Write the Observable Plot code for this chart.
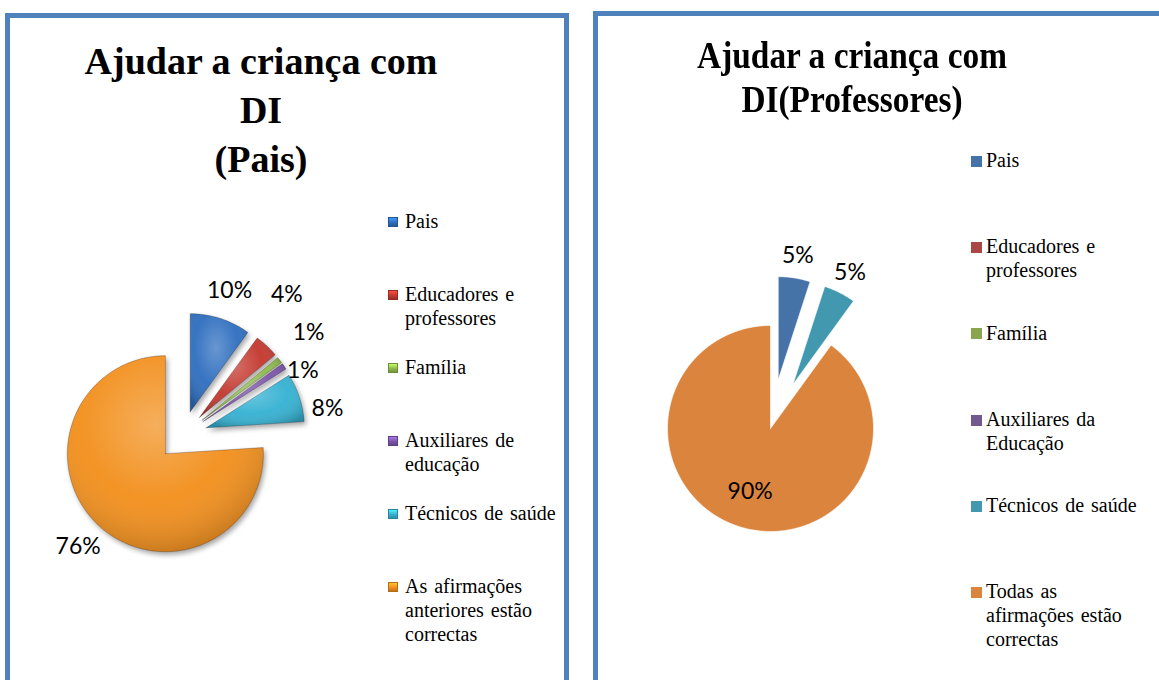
<!DOCTYPE html>
<html><head><meta charset="utf-8">
<script src="https://cdn.jsdelivr.net/npm/d3@7"></script>
<script src="https://cdn.jsdelivr.net/npm/@observablehq/plot@0.6"></script>
<style>
html,body{margin:0;padding:0;background:#fff;}
#root{position:relative;width:1159px;height:680px;overflow:hidden;background:#fff;}
.panel{position:absolute;border:5px solid #4f81bd;border-bottom:none;box-sizing:border-box;}
.title{position:absolute;font-family:"Liberation Serif","DejaVu Serif","Noto Serif",serif;font-weight:bold;text-align:center;color:#000;white-space:nowrap;}
.title div{transform-origin:50% 50%;}
.legend{position:absolute;font-family:"Liberation Serif","DejaVu Serif","Noto Serif",serif;color:#000;font-size:20px;}
.sw{position:absolute;box-sizing:border-box;}
.txt{position:absolute;line-height:24px;word-spacing:2px;}
.pie{position:absolute;}
.pie svg{background:transparent !important;overflow:visible;}
</style></head>
<body><div id="root"></div>
<script>
// ---------- data ----------
const leftTitle = ["Ajudar a criança com", "DI", "(Pais)"];
const leftCategories = ["Pais", "Educadores e professores", "Família", "Auxiliares de educação", "Técnicos de saúde", "As afirmações anteriores estão correctas"];
const leftValues = [10, 4, 1, 1, 8, 76];
const leftColors = ["#2f6ebf", "#c3392f", "#8fba4a", "#7c55ab", "#36b1d2", "#f28f1f"];

const rightTitle = ["Ajudar a criança com", "DI(Professores)"];
const rightCategories = ["Pais", "Educadores e professores", "Família", "Auxiliares da Educação", "Técnicos de saúde", "Todas as afirmações estão correctas"];
const rightValues = [5, 0, 0, 0, 5, 90];
const rightColors = ["#4572a7", "#aa4643", "#89a54e", "#71588f", "#4198af", "#db843d"];

// ---------- layout ----------
const root = document.getElementById("root");
function el(tag, cls, style, parent) {
  const e = document.createElement(tag);
  if (cls) e.className = cls;
  Object.assign(e.style, style || {});
  (parent || root).appendChild(e);
  return e;
}
el("div", "panel", {left: "5px", top: "13px", width: "564px", height: "720px"});
el("div", "panel", {left: "593px", top: "11px", width: "620px", height: "720px"});

function title(lines, cfg) {
  const t = el("div", "title", {left: (cfg.cx - 300) + "px", width: "600px", top: cfg.top + "px", fontSize: cfg.size + "px", lineHeight: cfg.lh + "px"});
  lines.forEach(l => { const d = el("div", null, {transform: `scaleX(${cfg.sx})`}, t); d.textContent = l; });
}
title(leftTitle, {cx: 261, top: 37, size: 38, lh: 49, sx: 1});
title(rightTitle, {cx: 852, top: 34, size: 37.5, lh: 44, sx: 0.89});

function legend(cats, colors, cfg) {
  cats.forEach((c, k) => {
    const base = cfg.y0 + cfg.step * k;
    const sw = el("div", "sw", {left: cfg.mx + "px", top: (base - 11) + "px", width: cfg.ms + "px", height: cfg.ms + "px", background: colors[k]}, root);
    if (cfg.bevel) {
      sw.style.background = `linear-gradient(180deg, ${d3.color(colors[k]).brighter(0.9)} 0%, ${colors[k]} 55%, ${d3.color(colors[k]).darker(0.6)} 100%)`;
      sw.style.border = `1px solid ${d3.color(colors[k]).darker(0.8)}`;
    }
    const t = el("div", "txt legend", {left: cfg.tx + "px", top: (base - 18.75) + "px", width: cfg.tw + "px"});
    t.textContent = c;
  });
}
legend(leftCategories, leftColors, {mx: 388, ms: 10, tx: 405, tw: 160, y0: 228, step: 73, bevel: true});
legend(rightCategories, rightColors, {mx: 971, ms: 11, tx: 986, tw: 160, y0: 167, step: 86.2, bevel: false});

// ---------- pies ----------
function pieChart(cats, vals, colors, cfg) {
  const arcs = d3.pie().sort(null).value(d => d)(vals);
  const maxV = d3.max(vals);
  const pts = [], labels = [];
  vals.forEach((v, i) => {
    if (!(v > 0)) return;
    const a = arcs[i];
    const mid = (a.startAngle + a.endAngle) / 2;
    const e = (v === maxV && !cfg.explodeLargest) ? 0 : cfg.explode;
    const ox = e * Math.sin(mid), oy = e * Math.cos(mid);
    const n = Math.max(2, Math.ceil((a.endAngle - a.startAngle) / (Math.PI / 180)));
    pts.push({key: cats[i], x: ox, y: oy});
    for (let k = 0; k <= n; k++) {
      const t = a.startAngle + (a.endAngle - a.startAngle) * k / n;
      pts.push({key: cats[i], x: ox + Math.sin(t), y: oy + Math.cos(t)});
    }
    pts.push({key: cats[i], x: ox, y: oy});
    const inside = v === maxV && cfg.bigInside;
    const lr = inside ? cfg.insideR : cfg.labelR;
    const text = v + "%";
    labels.push({text, inside, x: ox + lr * Math.sin(mid), y: oy + lr * Math.cos(mid), w: text.length * 0.55 * cfg.fs / cfg.s});
  });
  // simple collision relaxation for outside labels
  const gap = cfg.gap / cfg.s;
  for (let it = 0; it < 400; it++) {
    for (let i = 0; i < labels.length; i++) for (let j = i + 1; j < labels.length; j++) {
      const a = labels[i], b = labels[j];
      if (a.inside || b.inside) continue;
      const dx = Math.abs(a.x - b.x), dy = a.y - b.y;
      if (dx < (a.w + b.w) / 2 + 4 / cfg.s && Math.abs(dy) < gap) {
        const p = (gap - Math.abs(dy)) / 2;
        if (dy >= 0) { a.y += p; b.y -= p; } else { a.y -= p; b.y += p; }
      }
    }
  }
  const W = cfg.W, H = cfg.H, s = cfg.s;
  const marks = [
    Plot.line(pts, {x: "x", y: "y", z: "key", fill: "key", stroke: cfg.edge, strokeWidth: cfg.edgeWidth, curve: "linear-closed"})
  ];
  if (cfg.sheen) marks.push(Plot.line(pts, {x: "x", y: "y", z: "key", fill: "url(#sheen)", stroke: "none", curve: "linear-closed"}));
  marks.push(Plot.text(labels, {x: "x", y: "y", text: "text", fontSize: cfg.fs, fontFamily: "Lato, 'Open Sans', sans-serif", fill: "#000", textAnchor: "middle", lineAnchor: "middle"}));
  const svg = Plot.plot({
    width: W, height: H, margin: 0,
    x: {domain: [-W / 2 / s, W / 2 / s], axis: null},
    y: {domain: [-H / 2 / s, H / 2 / s], axis: null},
    color: {domain: cats, range: colors},
    marks
  });
  if (cfg.sheen) {
    const defs = d3.select(svg).insert("defs", ":first-child");
    const g = defs.append("radialGradient").attr("id", "sheen").attr("cx", "45%").attr("cy", "35%").attr("r", "70%");
    g.append("stop").attr("offset", "0%").attr("stop-color", "#fff").attr("stop-opacity", 0.28);
    g.append("stop").attr("offset", "55%").attr("stop-color", "#fff").attr("stop-opacity", 0.04);
    g.append("stop").attr("offset", "100%").attr("stop-color", "#000").attr("stop-opacity", 0.22);
    const f = defs.append("filter").attr("id", "shadow").attr("x", "-20%").attr("y", "-20%").attr("width", "140%").attr("height", "140%");
    f.append("feDropShadow").attr("dx", 2).attr("dy", 3).attr("stdDeviation", 2.5).attr("flood-color", "#000").attr("flood-opacity", 0.35);
    const first = svg.querySelector('g[aria-label="line"]');
    if (first) first.setAttribute("filter", "url(#shadow)");
  }
  const wrap = el("div", "pie", {left: (cfg.cx - W / 2) + "px", top: (cfg.cy - H / 2) + "px", width: W + "px", height: H + "px"});
  wrap.appendChild(svg);
}

pieChart(leftCategories, leftValues, leftColors, {
  cx: 182, cy: 435, s: 98, W: 340, H: 380, explode: 0.255, explodeLargest: true,
  labelR: 1.3, bigInside: false, insideR: 0.6, fs: 23, gap: 38,
  edge: "rgba(0,0,0,0.25)", edgeWidth: 1, sheen: true
});
pieChart(rightCategories, rightValues, rightColors, {
  cx: 770, cy: 428, s: 103, W: 340, H: 400, explode: 0.48, explodeLargest: false,
  labelR: 1.22, bigInside: true, insideR: 0.64, fs: 23, gap: 36,
  edge: "rgba(255,255,255,0.6)", edgeWidth: 1, sheen: false
});
</script>
</body></html>
